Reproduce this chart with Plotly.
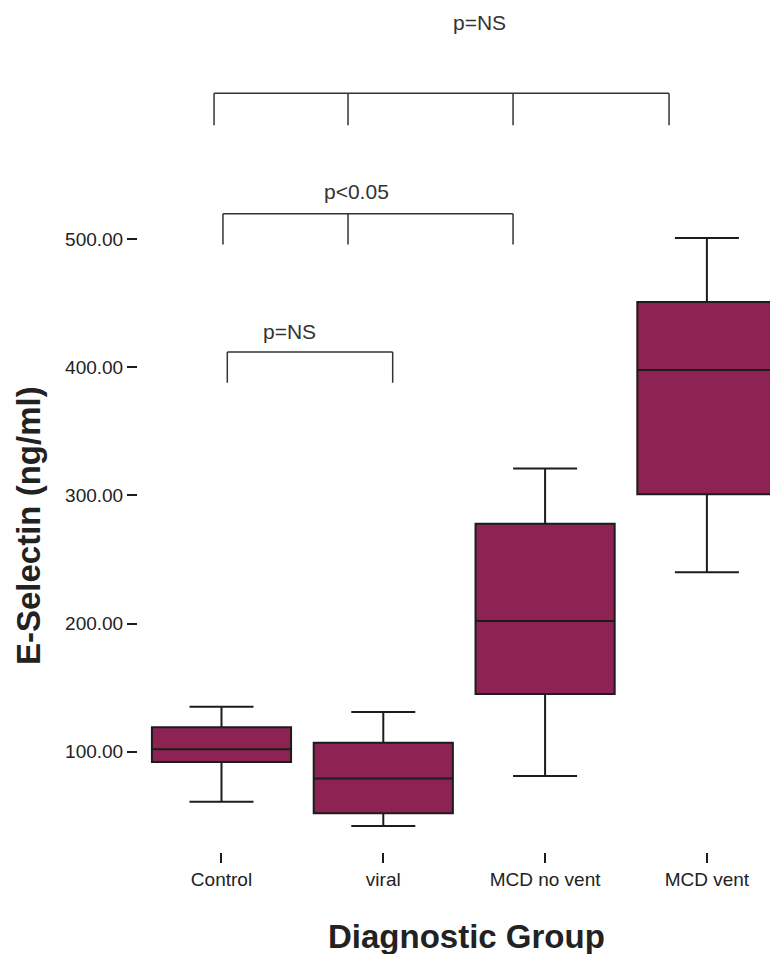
import plotly.graph_objects as go

# Five-number summaries per diagnostic group (ng/ml)
groups = ["Control", "viral", "MCD no vent", "MCD vent"]
lower_whisker = [61, 42, 81, 240]
q1 = [92, 52, 145, 301]
median = [102, 79, 202, 398]
q3 = [119, 107, 278, 451]
upper_whisker = [135, 131, 321, 501]

y_ticks = [100, 200, 300, 400, 500]
y_tick_labels = ["100.00", "200.00", "300.00", "400.00", "500.00"]

# Significance brackets: leg positions (category units), bar level, leg end, label
bracket_legs = [[-0.046, 0.782, 1.802, 2.766], [0.009, 0.782, 1.802], [0.036, 1.058]]
bracket_tops = [614, 520, 412]
bracket_bottoms = [589, 496, 388]
bracket_labels = ["p=NS", "p<0.05", "p=NS"]
bracket_label_x = [1.592, 0.837, 0.419]
bracket_label_y = [669, 537, 428]

FONT = "Liberation Sans, Arial, sans-serif"
BOX_FILL = "#8C2352"
INK = "#1c1c1c"

fig = go.Figure()
fig.add_trace(go.Box(
    x=groups,
    q1=q1,
    median=median,
    q3=q3,
    lowerfence=lower_whisker,
    upperfence=upper_whisker,
    fillcolor=BOX_FILL,
    line=dict(color=INK, width=2),
    whiskerwidth=0.46,
    width=0.86,
    boxpoints=False,
    hoverinfo="skip",
    showlegend=False,
))

shapes = []
annotations = []
for legs, top, bottom, label, lx, ly in zip(bracket_legs, bracket_tops, bracket_bottoms,
                                             bracket_labels, bracket_label_x, bracket_label_y):
    shapes.append(dict(type="line", xref="x", yref="y", x0=legs[0], x1=legs[-1],
                       y0=top, y1=top, line=dict(color="#333333", width=1.5)))
    for lg in legs:
        shapes.append(dict(type="line", xref="x", yref="y", x0=lg, x1=lg,
                           y0=top, y1=bottom, line=dict(color="#333333", width=1.5)))
    annotations.append(dict(x=lx, y=ly, xref="x", yref="y", text=label, showarrow=False,
                            font=dict(family=FONT, size=21, color="#333333")))

# Axis titles placed as paper-anchored labels
annotations.append(dict(x=0.519, y=-0.0994, xref="paper", yref="paper",
                        text="<b>Diagnostic Group</b>", showarrow=False,
                        xanchor="center", yanchor="middle",
                        font=dict(family=FONT, size=33, color="#222222")))
annotations.append(dict(x=-0.174, y=0.3826, xref="paper", yref="paper",
                        text="<b>E-Selectin (ng/ml)</b>", showarrow=False, textangle=-90,
                        xanchor="center", yanchor="middle",
                        font=dict(family=FONT, size=33, color="#222222")))

fig.update_layout(
    width=770,
    height=954,
    margin=dict(l=138, r=0, t=0, b=102),
    paper_bgcolor="white",
    plot_bgcolor="white",
    shapes=shapes,
    annotations=annotations,
    xaxis=dict(
        type="category",
        range=[-0.516, 3.39],
        showgrid=False,
        zeroline=False,
        showline=False,
        ticks="outside",
        ticklen=10,
        tickwidth=1.5,
        tickcolor=INK,
        tickfont=dict(family=FONT, size=19, color="#222222"),
    ),
    yaxis=dict(
        range=[21.7, 686.8],
        tickvals=y_ticks,
        ticktext=y_tick_labels,
        showgrid=False,
        zeroline=False,
        showline=False,
        ticks="outside",
        ticklen=10,
        tickwidth=1.5,
        tickcolor=INK,
        tickfont=dict(family=FONT, size=19, color="#222222"),
    ),
)

fig.write_html("out.html")
